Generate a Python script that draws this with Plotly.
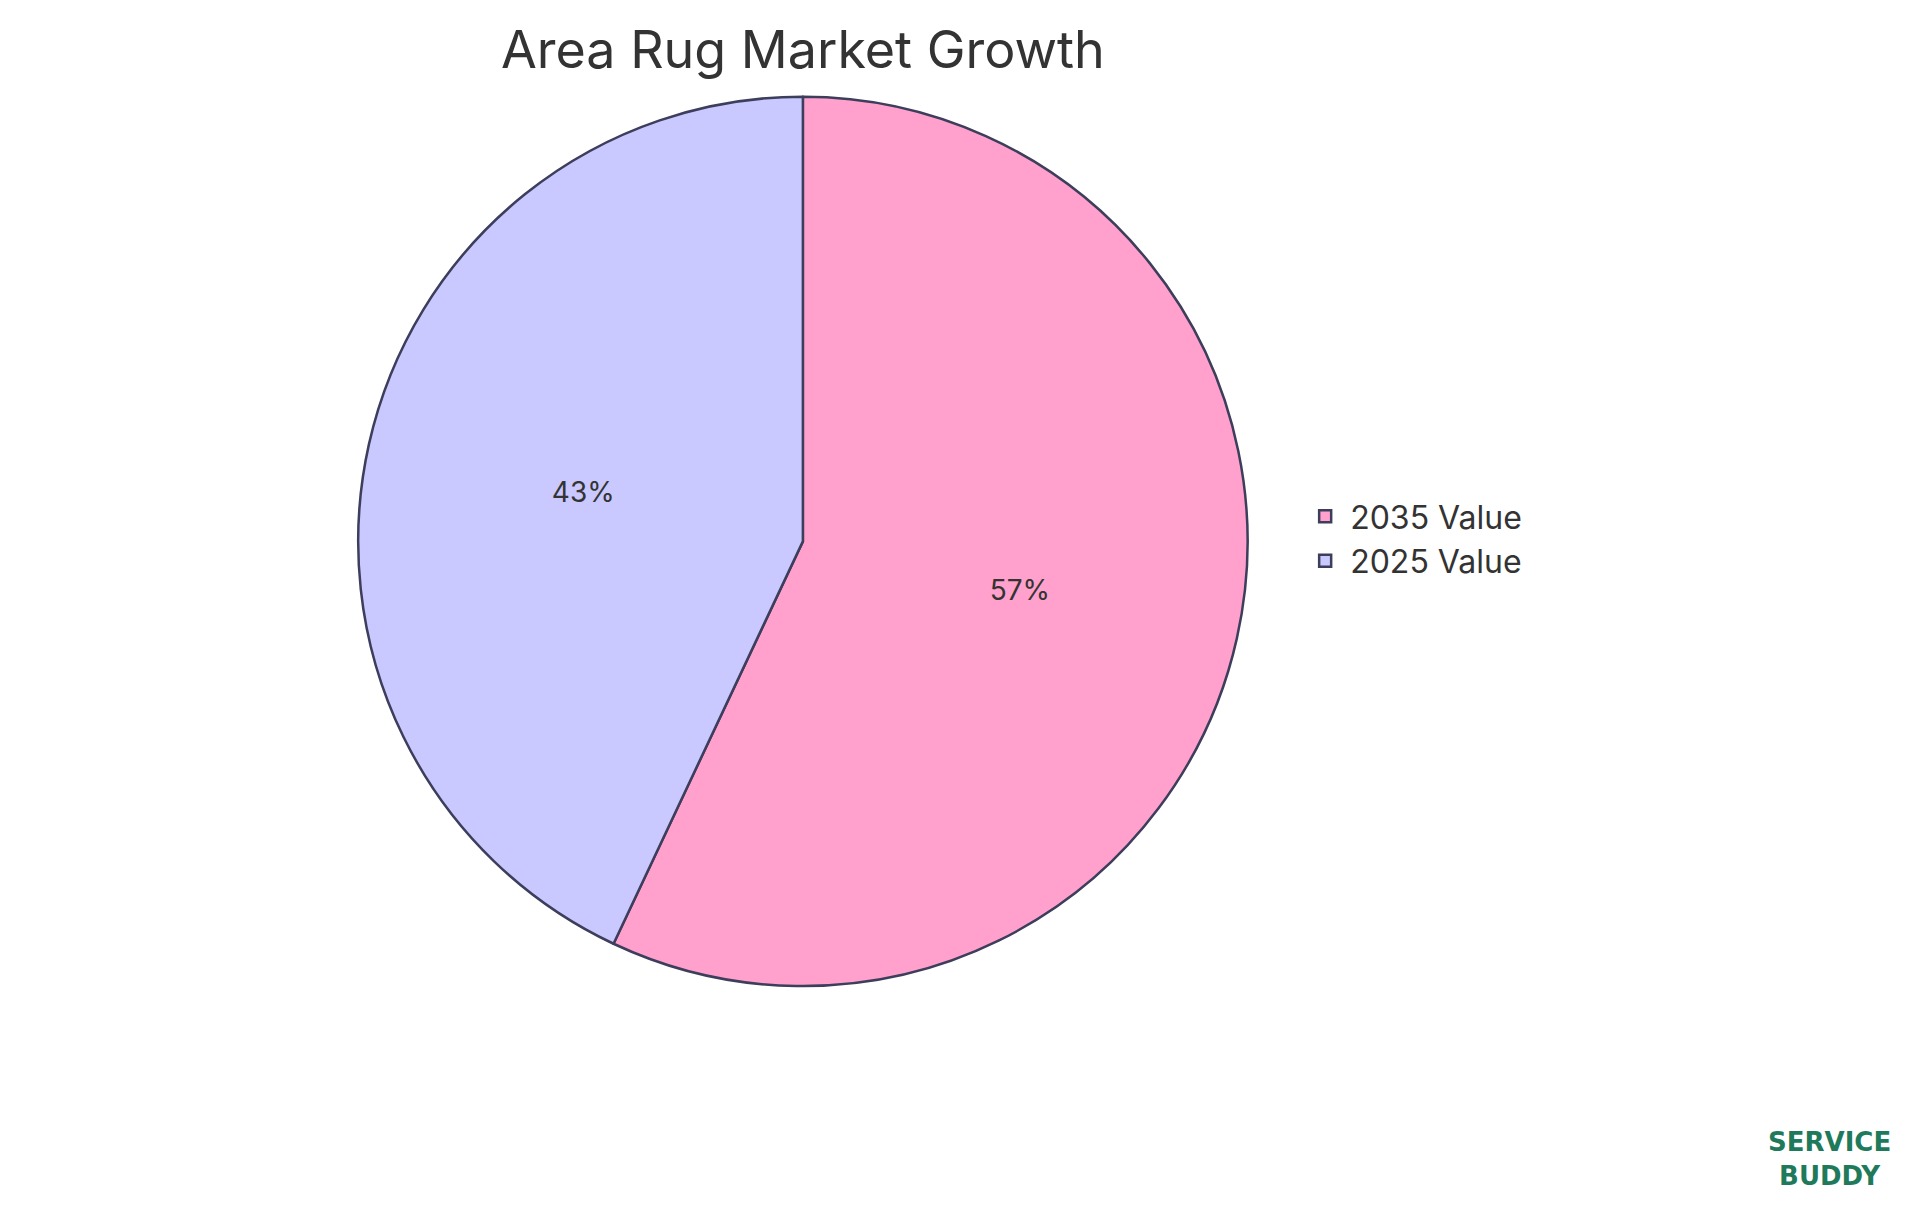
import plotly.graph_objects as go

labels = ["2035 Value", "2025 Value"]
values = [57, 43]
colors = ["#FFA1CC", "#C9C8FF"]

fig = go.Figure(go.Pie(
    labels=labels, values=values, sort=False, direction="clockwise",
    marker=dict(colors=colors, line=dict(color="#3d3d5c", width=2.5)),
    textinfo="percent", textposition="inside", insidetextorientation="horizontal",
    textfont=dict(size=28, color="#333333"),
    domain=dict(x=[0.172, 0.656], y=[0.195, 0.927]),
))

fig.update_layout(
    width=1920, height=1215,
    margin=dict(l=0, r=0, t=0, b=0),
    paper_bgcolor="white",
    font=dict(family="Inter, Open Sans, sans-serif", color="#333333"),
    title=dict(text="Area Rug Market Growth", x=0.414, xanchor="center",
               y=0.966, yanchor="middle", font=dict(size=52, color="#333333")),
    legend=dict(x=0.673, y=0.563, xanchor="left", yanchor="middle",
                font=dict(size=32, color="#333333"), itemwidth=40,
                tracegroupgap=20),
    annotations=[dict(text="<b>SERVICE<br>BUDDY</b>", x=0.982, y=0.025,
                      xref="paper", yref="paper", xanchor="right", yanchor="bottom",
                      showarrow=False, align="center",
                      font=dict(size=26, color="#1f7a5c", family="DejaVu Sans"))],
)

fig.write_html("out.html")
